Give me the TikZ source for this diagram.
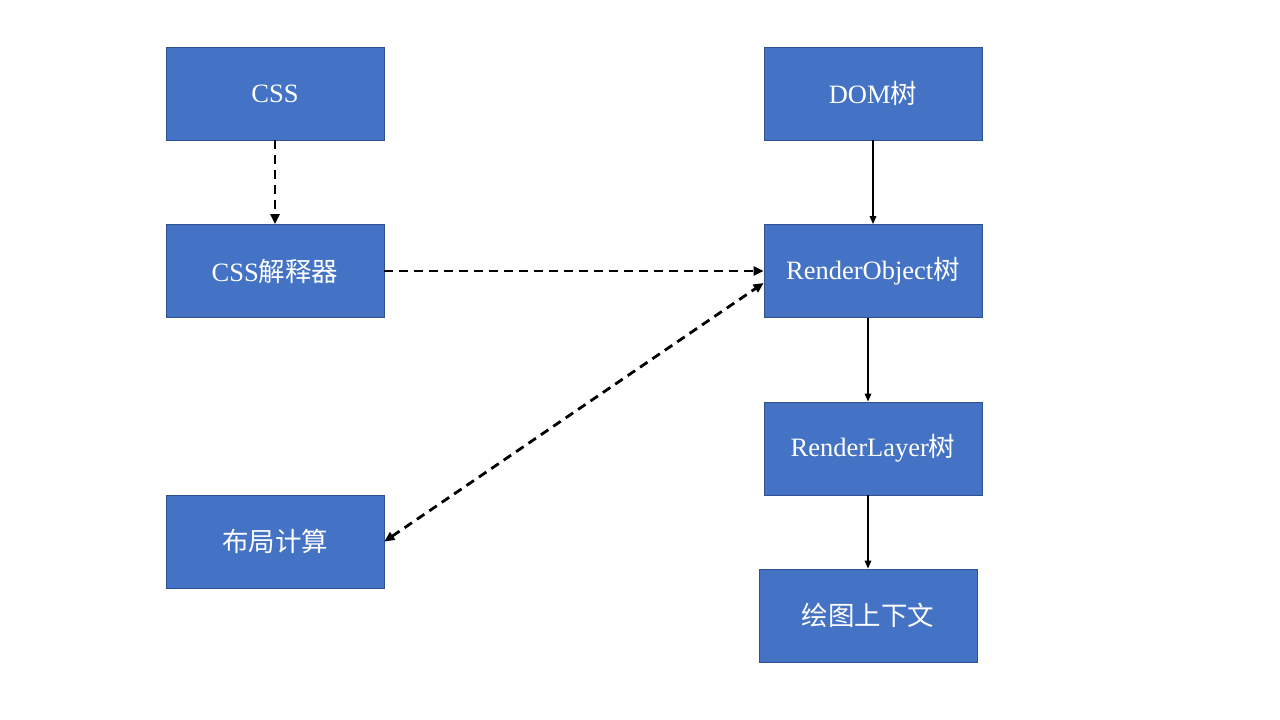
\documentclass[tikz,border=0pt]{standalone}
\usepackage{fontspec}
\setmainfont{Liberation Serif}
\newfontfamily\cjk{Noto Sans CJK SC}
\usetikzlibrary{arrows.meta}
\begin{document}
\begin{tikzpicture}[x=1pt,y=-1pt,
  box/.style={fill=boxfill, draw=boxline, line width=0.8pt, minimum width=218pt, minimum height=93pt, inner sep=0pt, text=white, font=\fontsize{26.5}{30}\selectfont},
  solidarr/.style={line width=1.6pt, -{Triangle[length=8pt,width=6.5pt]}},
  dasharr/.style={line width=2.8pt, dash pattern=on 9pt off 6pt, -{Triangle[length=10pt,width=9pt]}}]
\definecolor{boxfill}{HTML}{4472C4}
\definecolor{boxline}{HTML}{2F528F}
\useasboundingbox (0,0) rectangle (1280,720);
\node[box] (css) at (275,93.5) {CSS};
\node[box] (parser) at (275,271) {CSS{\cjk 解释器}};
\node[box] (layout) at (275,541.5) {{\cjk 布局计算}};
\node[box] (dom) at (873,93.5) {DOM{\cjk 树}};
\node[box] (ro) at (873,271) {RenderObject{\cjk 树}};
\node[box] (rl) at (873,448.5) {RenderLayer{\cjk 树}};
\node[box] (ctx) at (868,615.5) {{\cjk 绘图上下文}};
\draw[dasharr] (css.south) -- (parser.north);
\draw[dasharr] (parser.east) -- (ro.west);
\draw[dasharr, {Triangle[length=10pt,width=9pt]}-{Triangle[length=10pt,width=9pt]}] (layout.east) -- (ro.west |- 0,283);
\draw[solidarr] (dom.south) -- (ro.north);
\draw[solidarr] (ro.south -| 868,0) -- (rl.north -| 868,0);
\draw[solidarr] (rl.south -| 868,0) -- (ctx.north);
\end{tikzpicture}
\end{document}
